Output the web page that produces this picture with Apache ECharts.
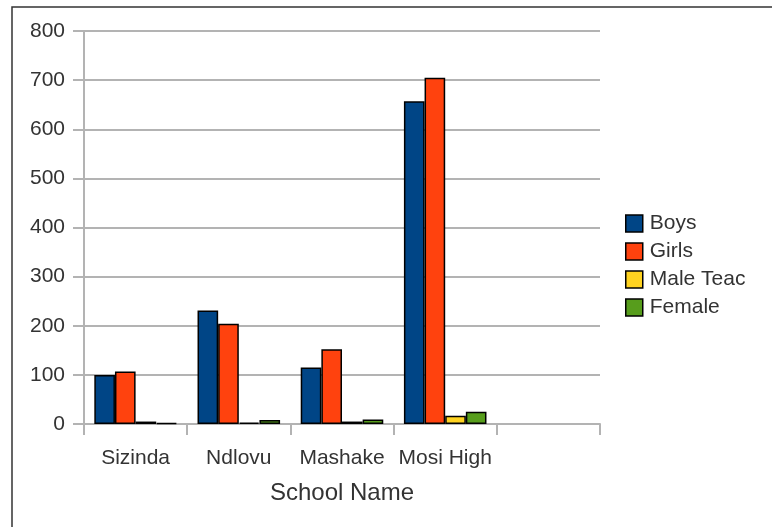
<!DOCTYPE html>
<html>
<head>
<meta charset="utf-8">
<script src="https://cdn.jsdelivr.net/npm/echarts@6/dist/echarts.min.js"></script>
<style>
  html, body { margin: 0; padding: 0; background: #fff; }
  #chart { width: 772px; height: 527px; }
</style>
</head>
<body>
<div id="chart"></div>
<script>
// School enrolment and staff counts
const categories = ['Sizinda', 'Ndlovu', 'Mashake', 'Mosi High', ''];
const boys = [100, 231, 115, 657, null];
const girls = [107, 204, 152, 705, null];
const maleTeachers = [5, 3, 5, 17, null];
const femaleTeachers = [2, 8, 9, 25, null];
const yTicks = [0, 100, 200, 300, 400, 500, 600, 700, 800];

const seriesNames = ['Boys', 'Girls', 'Male Teac', 'Female'];
const seriesColors = ['#004586', '#ff420e', '#ffd320', '#579d1c'];
const seriesData = [boys, girls, maleTeachers, femaleTeachers];

const font = 'Liberation Sans, Arial, sans-serif';
const textColor = '#333';
const gridColor = '#b3b3b3';

const chart = echarts.init(document.getElementById('chart'), null, { renderer: 'canvas' });

chart.setOption({
  animation: false,
  backgroundColor: '#fff',
  graphic: [{
    type: 'rect',
    shape: { x: 12, y: 7, width: 800, height: 560 },
    style: { fill: 'none', stroke: '#333', lineWidth: 1.5 },
    silent: true
  }],
  grid: { left: 84, top: 31, right: 172, bottom: 103 },
  legend: {
    orient: 'vertical',
    left: 625,
    top: 213,
    padding: 0,
    itemWidth: 17,
    itemHeight: 17,
    itemGap: 7,
    icon: 'rect',
    textStyle: { fontFamily: font, fontSize: 21, color: textColor, padding: [0, 0, 0, 2] },
    itemStyle: { borderColor: '#000', borderWidth: 1.5 },
    data: seriesNames
  },
  xAxis: {
    type: 'category',
    data: categories,
    boundaryGap: true,
    name: 'School Name',
    nameLocation: 'middle',
    nameGap: 57,
    nameTextStyle: { fontFamily: font, fontSize: 24, color: textColor },
    axisLine: { show: true, lineStyle: { color: gridColor, width: 2 } },
    axisTick: { show: true, length: 11, interval: 0, lineStyle: { color: gridColor, width: 2 } },
    axisLabel: { fontFamily: font, fontSize: 21, color: textColor, margin: 24, interval: 0, hideOverlap: false },
    splitLine: { show: false }
  },
  yAxis: {
    type: 'value',
    min: yTicks[0],
    max: yTicks[yTicks.length - 1],
    interval: yTicks[1] - yTicks[0],
    axisLine: { show: true, lineStyle: { color: gridColor, width: 2 } },
    axisTick: { show: true, length: 11, lineStyle: { color: gridColor, width: 2 } },
    axisLabel: { fontFamily: font, fontSize: 21, color: textColor, margin: 19 },
    splitLine: { show: true, lineStyle: { color: gridColor, width: 2 } }
  },
  series: seriesNames.map((name, i) => ({
    name: name,
    type: 'bar',
    data: seriesData[i],
    barGap: '0%',
    barCategoryGap: '20%',
    itemStyle: { color: seriesColors[i], borderColor: '#000', borderWidth: 1.5 }
  }))
});
</script>
</body>
</html>
